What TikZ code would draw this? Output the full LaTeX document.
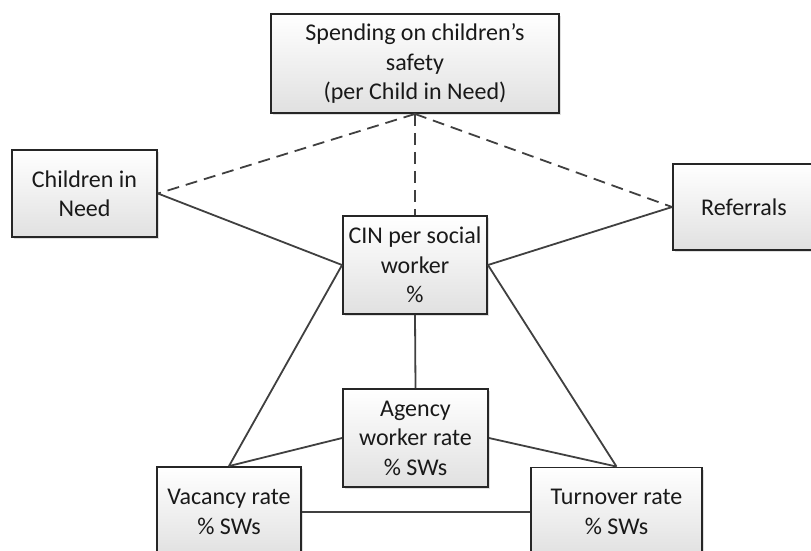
\documentclass[tikz,border=0pt]{standalone}
\usepackage{fontspec}
\setmainfont{Carlito}
\usetikzlibrary{shadows}

\begin{document}
\begin{tikzpicture}[x=1pt, y=-1pt]

    \tikzstyle{factor}=[draw=black!85, line width=1.9pt, top color=white, bottom color=black!12, drop shadow={opacity=0.25, shadow xshift=2pt, shadow yshift=-2pt}, align=center, inner sep=0pt, font=\fontsize{24}{29.5}\selectfont, text=black!90];
    \tikzstyle{link}=[draw=black!75, line width=1.8pt];
    \tikzstyle{weak}=[link, dash pattern=on 12pt off 7pt];

    \useasboundingbox (0, 0) rectangle (811, 550);
    \clip (0, 0) rectangle (811, 550);

    \node[factor, minimum width=288pt, minimum height=99pt] (spend) at (415, 63.5) {Spending on children’s\\safety\\(per Child in Need)};
    \node[factor, minimum width=145pt, minimum height=87pt] (need) at (84.5, 193.5) {Children in\\Need};
    \node[factor, minimum width=142pt, minimum height=86pt] (refs) at (744, 207) {Referrals};

    \node[factor, minimum width=144pt, minimum height=98pt] (cinsw) at (415, 265) {CIN per social\\worker\\\%};
    \node[factor, minimum width=145pt, minimum height=98pt] (agency) at (415.5, 438) {Agency\\worker rate\\\% SWs};

    \node[factor, minimum width=144pt, minimum height=90pt] (vacancy) at (229, 512) {Vacancy rate\\\% SWs};
    \node[factor, minimum width=171pt, minimum height=89pt] (turnover) at (616.5, 512) {Turnover rate\\\% SWs};


    \draw (spend.south) edge[weak] (need.east);
    \draw (spend.south) edge[weak] (cinsw.north);
    \draw (spend.south) edge[weak] (refs.west);

    \draw (need.east) edge[link] (cinsw.west);
    \draw (cinsw.east) edge[link] (refs.west);

    \draw (cinsw.west) edge[link] (vacancy.north);
    \draw (cinsw.east) edge[link] (turnover.north);
    \draw (cinsw.south) edge[link] (agency.north);

    \draw (agency.west) edge[link] (vacancy.north);
    \draw (agency.east) edge[link] (turnover.north);
    \draw (vacancy.east) edge[link] (turnover.west);

\end{tikzpicture}
\end{document}
